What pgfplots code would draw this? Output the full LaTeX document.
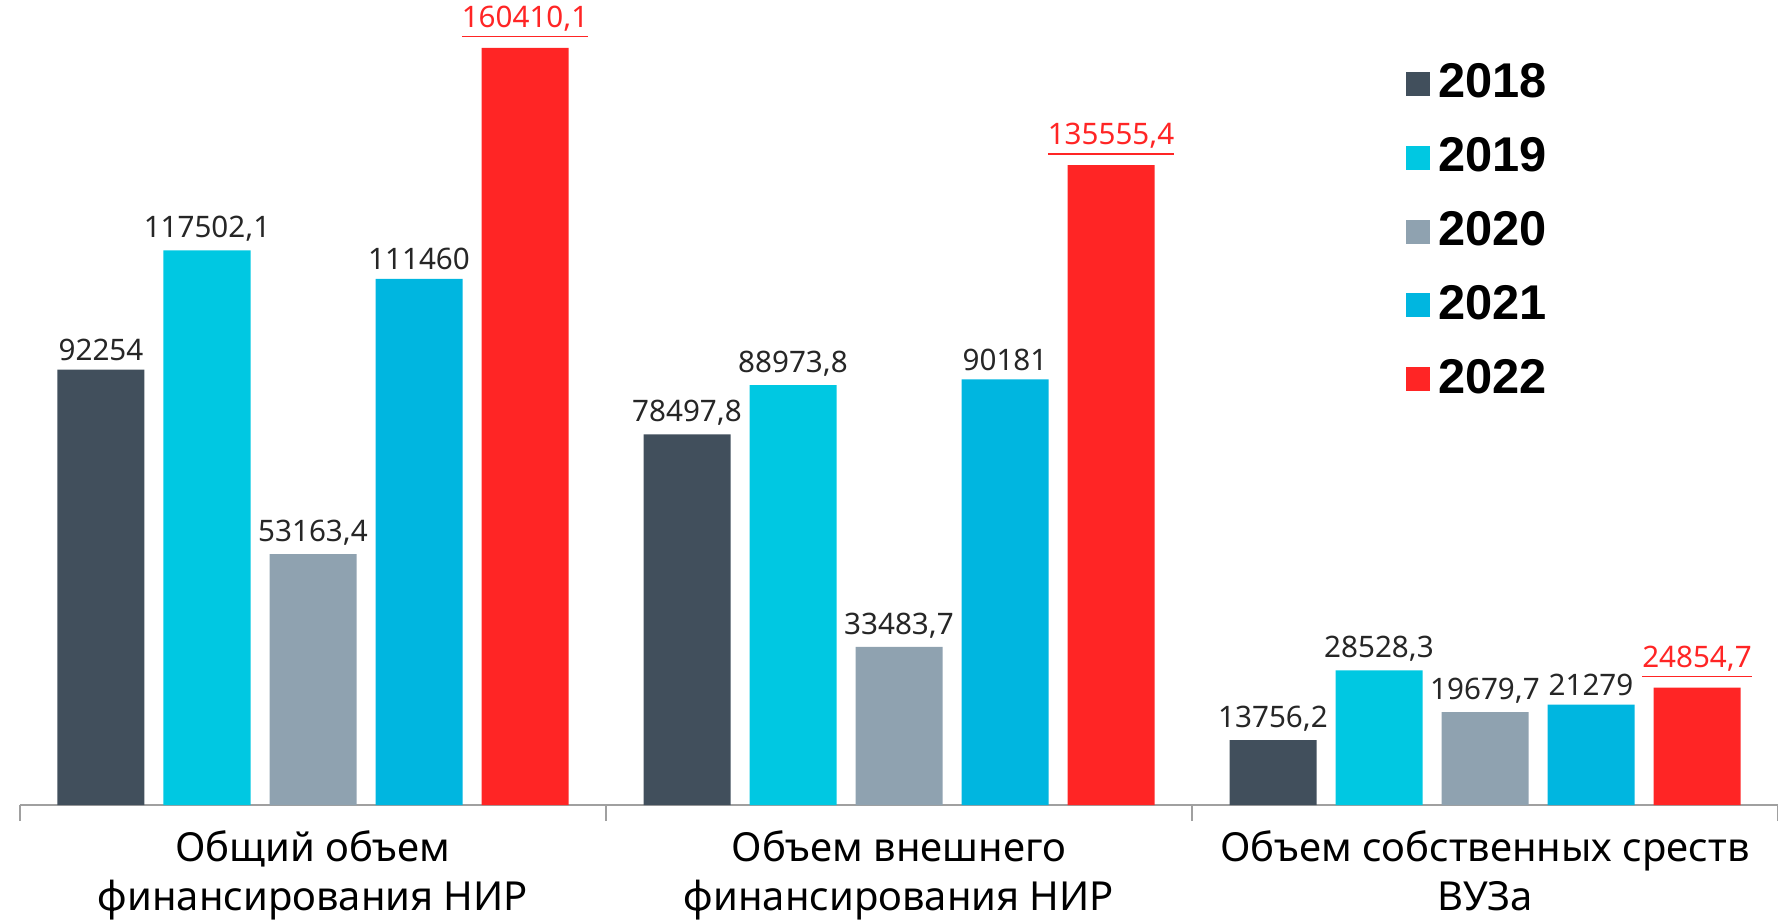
\documentclass[border=0pt]{standalone}
\usepackage{pgfplots}
\pgfplotsset{compat=1.18}
\usepackage{fontspec}
\setmainfont{Noto Sans}
\newfontfamily\legfont{Liberation Sans}
\definecolor{c18}{HTML}{414F5C}
\definecolor{c19}{HTML}{00C8E2}
\definecolor{c20}{HTML}{8FA2B0}
\definecolor{c21}{HTML}{00B6E0}
\definecolor{c22}{HTML}{FF2525}
\definecolor{axgray}{HTML}{A0A0A0}
\pgfplotsset{sqlegend/.style={legend image code/.code={\fill[##1] (0pt,-3pt) rectangle (6pt,3pt);}}}
\begin{document}
\begin{tikzpicture}
\begin{axis}[
  name=ax,
  scale only axis,
  width=439.5pt, height=202.5pt,
  xmin=-0.5, xmax=2.5,
  ymin=0, ymax=171600,
  ybar, bar width=21.75pt,
  axis x line=bottom,
  axis y line=none,
  axis line style={-, axgray, line width=0.5pt},
  xtick={0,1,2},
  xticklabels={{Общий объем\\финансирования НИР},{Объем внешнего\\финансирования НИР},{Объем собственных среств\\ВУЗа}},
  minor xtick={-0.5,0.5,1.5,2.5},
  major tick length=0pt,
  minor tick length=4pt,
  tick align=outside,
  minor tick style={axgray, line width=0.5pt},
  xticklabel style={align=center, font=\fontsize{10}{12.3}\selectfont, yshift=-2.8pt},
  point meta=explicit symbolic,
  nodes near coords={\pgfplotspointmeta},
  every node near coord/.append style={font=\fontsize{7.4}{9}\selectfont, text=black!85, inner sep=2pt},
  legend style={at={(0.788,0.926)}, anchor=north west, draw=none, fill=none,
    font=\legfont\bfseries\fontsize{12.2}{14}\selectfont,
    row sep=4.45pt, inner sep=0pt,
    /tikz/every even column/.append style={column sep=4.2pt}},
  legend cell align=left,
  clip=false,
]
\addplot[bar shift=-53pt, fill=c18, draw=none, sqlegend]
  coordinates {(0,92254) [92254] (1,78497.8) [78497,8] (2,13756.2) [13756,2]};
\addlegendentry{2018}
\addplot[bar shift=-26.5pt, fill=c19, draw=none, sqlegend]
  coordinates {(0,117502.1) [117502,1] (1,88973.8) [88973,8] (2,28528.3) [28528,3]};
\addlegendentry{2019}
\addplot[bar shift=0pt, fill=c20, draw=none, sqlegend]
  coordinates {(0,53163.4) [53163,4] (1,33483.7) [33483,7] (2,19679.7) [19679,7]};
\addlegendentry{2020}
\addplot[bar shift=26.5pt, fill=c21, draw=none, sqlegend]
  coordinates {(0,111460) [111460] (1,90181) [90181] (2,21279) [21279]};
\addlegendentry{2021}
\addplot[bar shift=53pt, fill=c22, draw=none, sqlegend,
  nodes near coords={\underline{\pgfplotspointmeta}},
  every node near coord/.append style={text=c22}]
  coordinates {(0,160410.1) [160410,1] (1,135555.4) [135555,4] (2,24854.7) [24854,7]};
\addlegendentry{2022}
\end{axis}
\pgfresetboundingbox
\path ([xshift=-5pt,yshift=-29.5pt]ax.south west) rectangle ([yshift=-1.25pt]ax.north east);
\end{tikzpicture}
\end{document}
